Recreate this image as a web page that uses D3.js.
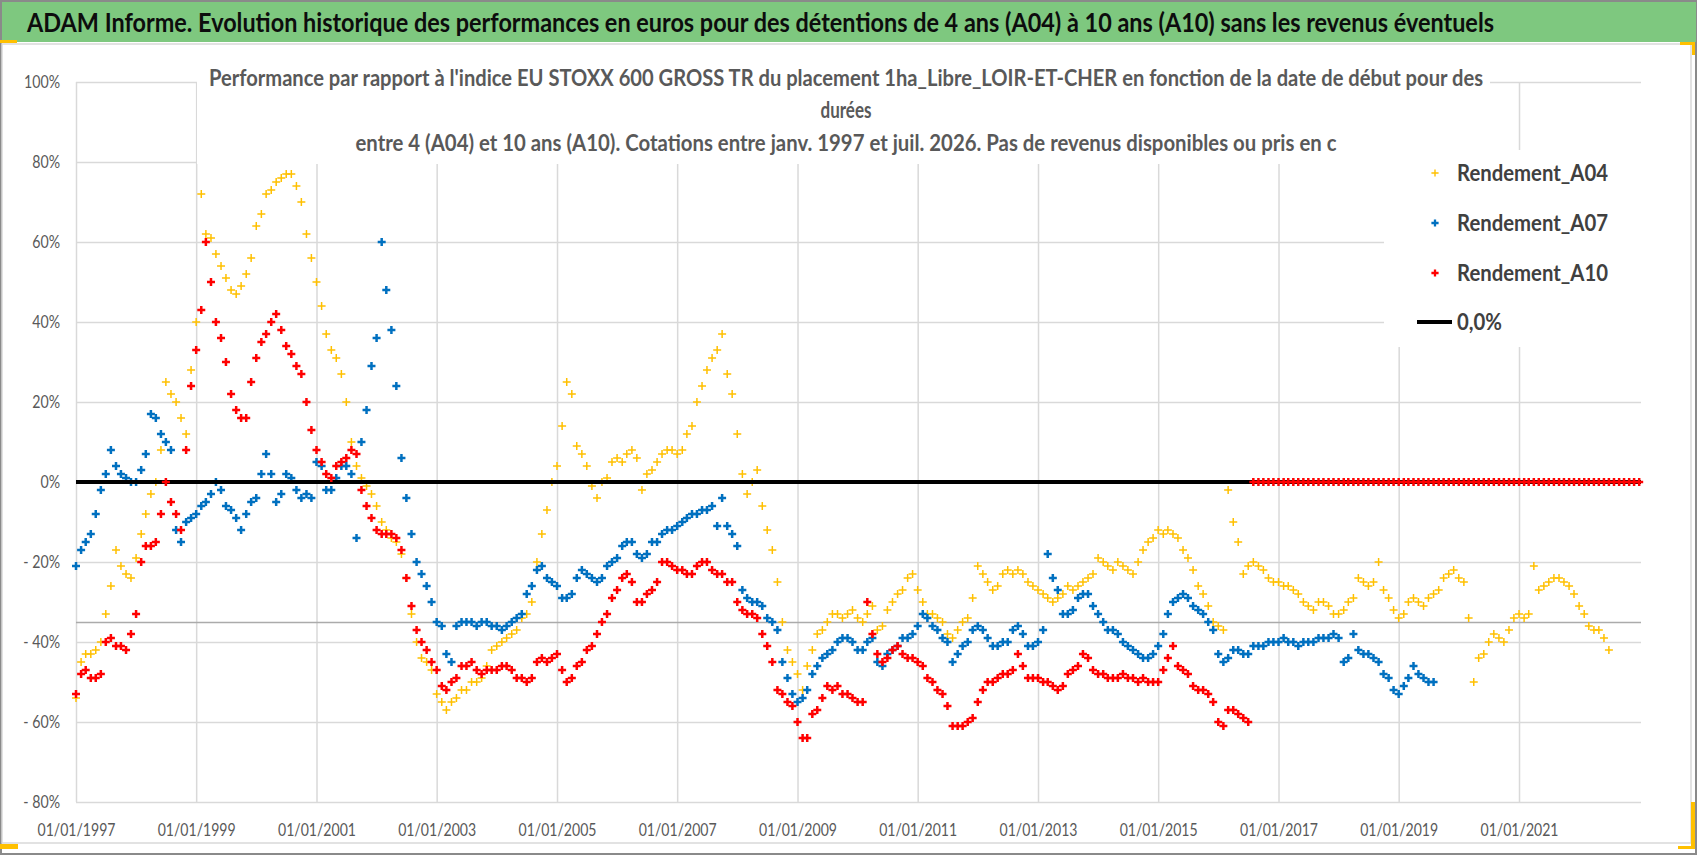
<!DOCTYPE html>
<html>
<head>
<meta charset="utf-8">
<script src="https://cdn.jsdelivr.net/npm/d3@7/dist/d3.min.js"></script>
<style>
  body { margin: 0; background: #fff; }
  svg { display: block; font-family: Lato, "Open Sans", sans-serif; }
</style>
</head>
<body>
<script>
// monthly readings (in %), first value = janv. 1997
var startDate = "1997-01-01";

var rendementA04 = [
  -54,-45,-43,-43,-42,-40,-33,-26,-17,-21,-23,-24,
  -19,-13,-8,-3,0,8,25,22,20,16,12,28,
  40,72,62,61,57,54,51,48,47,49,52,56,
  64,67,72,73,75,76,77,77,74,70,62,56,
  50,44,37,33,31,27,20,10,4,1,-1,-3,
  -6,-10,-12,-14,-15,-18,-24,-33,-40,-44,-45,-47,
  -53,-55,-57,-55,-54,-52,-52,-50,-50,-49,-46,-42,
  -41,-40,-39,-38,-37,-34,-33,-30,-20,-13,-7,0,
  4,14,25,22,9,7,4,-1,-4,0,1,5,
  6,5,7,8,6,-2,2,3,5,7,8,8,
  7,8,12,14,20,24,28,31,33,37,27,22,
  12,2,-3,0,3,-6,-12,-17,-25,-35,-42,-45,
  -48,-52,-46,-42,-38,-37,-35,-33,-33,-34,-33,-32,
  -34,-35,-33,-31,-37,-36,-32,-30,-28,-27,-24,-23,
  -27,-30,-33,-33,-34,-35,-38,-39,-37,-35,-34,-29,
  -21,-23,-25,-27,-26,-23,-22,-23,-22,-23,-25,-26,
  -27,-28,-29,-30,-29,-28,-26,-27,-26,-25,-24,-23,
  -19,-20,-21,-22,-20,-21,-22,-23,-20,-17,-15,-14,
  -12,-13,-12,-13,-14,-17,-19,-22,-26,-28,-31,-35,
  -36,-37,-2,-10,-15,-23,-21,-20,-21,-22,-24,-25,
  -25,-26,-26,-27,-28,-30,-31,-32,-30,-30,-31,-33,
  -33,-32,-30,-29,-24,-25,-26,-25,-20,-27,-29,-32,
  -34,-33,-30,-29,-30,-31,-29,-28,-27,-24,-23,-22,
  -24,-25,-34,-50,-44,-43,-40,-38,-39,-40,-37,-34,
  -33,-34,-33,-21,-27,-26,-25,-24,-24,-25,-26,-28,
  -31,-33,-36,-37,-37,-39,-42
];

var rendementA07 = [
  -21,-17,-15,-13,-8,-2,2,8,4,2,1,0,
  0,3,7,17,16,12,10,8,-12,-15,-10,-9,
  -8,-6,-5,-3,0,-2,-6,-7,-9,-12,-8,-5,
  -4,2,7,2,-5,-3,2,1,-2,-4,-3,-4,
  5,4,-2,-2,1,4,4,2,-14,10,18,29,
  36,60,48,38,24,6,-4,-13,-20,-23,-26,-30,
  -35,-36,-43,-45,-36,-35,-35,-35,-36,-35,-35,-36,
  -36,-37,-36,-35,-34,-33,-28,-26,-22,-21,-24,-25,
  -26,-29,-29,-28,-24,-22,-23,-24,-25,-24,-21,-20,
  -19,-16,-15,-15,-18,-19,-18,-15,-15,-13,-12,-12,
  -11,-10,-9,-8,-8,-7,-7,-6,-11,-4,-11,-13,
  -16,-27,-29,-30,-30,-31,-34,-35,-37,-45,-49,-53,
  -55,-54,-52,-48,-46,-44,-43,-42,-40,-39,-39,-40,
  -42,-42,-40,-39,-45,-46,-43,-42,-41,-39,-39,-38,
  -36,-33,-34,-36,-37,-39,-40,-45,-43,-41,-40,-37,
  -36,-37,-39,-41,-41,-40,-40,-37,-36,-38,-41,-41,
  -40,-37,-18,-24,-27,-33,-33,-32,-29,-28,-28,-31,
  -33,-35,-37,-37,-38,-40,-41,-42,-43,-44,-44,-43,
  -41,-38,-33,-30,-29,-28,-29,-31,-32,-33,-35,-37,
  -43,-45,-44,-42,-42,-43,-43,-41,-41,-41,-40,-40,
  -40,-39,-40,-40,-41,-40,-40,-40,-39,-39,-39,-38,
  -39,-45,-44,-38,-42,-43,-43,-44,-45,-48,-49,-52,
  -53,-51,-49,-46,-48,-49,-50,-50
];

// A10 : no more 10-year windows after mid 2016, the sheet gives 0 there
var rendementA10 = [
  -53,-48,-47,-49,-49,-48,-40,-39,-41,-41,-42,-38,
  -33,-20,-16,-16,-15,-8,0,-5,-8,-12,8,24,
  33,43,60,50,40,36,30,22,18,16,16,25,
  31,35,37,40,42,38,34,32,29,27,20,13,
  8,5,2,1,4,5,6,8,7,-2,-6,-9,
  -12,-13,-13,-13,-14,-17,-24,-31,-37,-40,-42,-45,
  -47,-51,-52,-50,-49,-46,-46,-45,-47,-48,-47,-47,
  -47,-46,-46,-47,-49,-49,-50,-49,-45,-44,-45,-44,
  -43,-47,-50,-49,-46,-45,-42,-41,-38,-35,-33,-29,
  -27,-24,-23,-25,-30,-30,-28,-27,-25,-20,-20,-21,
  -22,-22,-23,-23,-21,-20,-20,-22,-23,-23,-25,-25,
  -30,-32,-33,-33,-34,-38,-41,-45,-52,-53,-55,-56,
  -60,-64,-64,-58,-57,-54,-51,-52,-51,-53,-53,-54,
  -55,-55,-30,-38,-43,-45,-44,-42,-41,-43,-44,-44,
  -45,-46,-49,-50,-52,-53,-56,-61,-61,-61,-60,-59,
  -55,-52,-50,-50,-49,-48,-48,-47,-43,-46,-49,-49,
  -49,-50,-50,-51,-52,-51,-48,-47,-46,-43,-44,-47,
  -48,-48,-49,-49,-49,-48,-49,-49,-50,-49,-50,-50,
  -50,-47,-44,-41,-46,-47,-48,-51,-52,-52,-53,-55,
  -60,-61,-57,-57,-58,-59,-60,
  0,0,0,0,0,
  0,0,0,0,0,0,0,0,0,0,0,0,
  0,0,0,0,0,0,0,0,0,0,0,0,
  0,0,0,0,0,0,0,0,0,0,0,0,
  0,0,0,0,0,0,0,0,0,0,0,0,
  0,0,0,0,0,0,0,0,0,0,0,0,
  0,0,0,0,0,0,0,0,0,0,0,0,
  0
];

var zeroLevel = 0;
var greyLevel = -35.1;   // horizontal grey line across the plot

var yTicks = [-80, -60, -40, -20, 0, 20, 40, 60, 80, 100];
var xTickYears = [1997, 1999, 2001, 2003, 2005, 2007, 2009, 2011, 2013, 2015, 2017, 2019, 2021];
var xEnd = "2023-01-12";

var legendNames = ["Rendement_A04", "Rendement_A07", "Rendement_A10", "0,0%"];

var headerText = "ADAM Informe. Evolution historique des performances en euros pour des détentions de 4 ans (A04) à 10 ans (A10) sans les revenus éventuels";
var titleLines = [
  "Performance par rapport à l'indice EU STOXX 600 GROSS TR  du placement 1ha_Libre_LOIR-ET-CHER en fonction de la date de début pour des",
  "durées",
  "entre 4 (A04) et 10 ans (A10). Cotations entre janv. 1997 et juil. 2026. Pas de revenus disponibles ou pris en c"
];

(function () {

var W = 1698, H = 856;
var pL = 76, pR = 1641, pT = 82, pB = 802;

var svg = d3.select("body").append("svg")
  .attr("width", W)
  .attr("height", H)

// frame + header
svg.append("rect").attr("x", 1).attr("y", 1).attr("width", W - 3).attr("height", H - 3)
  .attr("fill", "#fff").attr("stroke", "#8a8a8a").attr("stroke-width", 2)
svg.append("rect").attr("x", 2).attr("y", 44).attr("width", 1689).attr("height", 799)
  .attr("fill", "#fff").attr("stroke", "#d9d9d9").attr("stroke-width", 1.5)
svg.append("rect").attr("x", 2).attr("y", 2).attr("width", W - 4).attr("height", 40)
  .attr("fill", "#7ec87f")

var parse = d3.timeParse("%Y-%m-%d");
var t0 = parse(startDate);

var x = d3.scaleTime().domain([t0, parse(xEnd)]).range([pL, pR])
var y = d3.scaleLinear().domain([-80, 100]).range([pB, pT])

function toPoints(arr) {
  return arr.map(function(v, i) { return { date: d3.timeMonth.offset(t0, i), value: v } })
}

var xTickDates = xTickYears.map(function(yr) { return new Date(yr, 0, 1) })

// gridlines
svg.append("g")
  .attr("class", "grid")
  .attr("transform", "translate(" + pL + ",0)")
  .call(d3.axisLeft(y).tickValues(yTicks).tickSize(-(pR - pL)).tickFormat(""))
svg.append("g")
  .attr("class", "grid")
  .attr("transform", "translate(0," + pB + ")")
  .call(d3.axisBottom(x).tickValues(xTickDates).tickSize(-(pB - pT)).tickFormat(""))
svg.selectAll(".grid .domain").remove()
svg.selectAll(".grid .tick line").attr("stroke", "#d9d9d9").attr("stroke-width", 1.5)

// grey level line
svg.append("line")
  .attr("x1", pL).attr("x2", pR)
  .attr("y1", y(greyLevel)).attr("y2", y(greyLevel))
  .attr("stroke", "#ababab").attr("stroke-width", 1.5)

// title box and legend box hide the grid
svg.append("rect").attr("x", 197).attr("y", 55).attr("width", 1293).attr("height", 109).attr("fill", "#fff")
svg.append("rect").attr("x", 1384).attr("y", 150).attr("width", 257).attr("height", 197).attr("fill", "#fff")

// axis labels
function fmtPct(v) { return v < 0 ? "- " + Math.abs(v) + "%" : v + "%" }

var yAxis = svg.append("g")
  .attr("transform", "translate(" + pL + ",0)")
  .call(d3.axisLeft(y).tickValues(yTicks).tickSize(0).tickPadding(16).tickFormat(fmtPct))
var xAxis = svg.append("g")
  .attr("transform", "translate(0," + pB + ")")
  .call(d3.axisBottom(x).tickValues(xTickDates).tickSize(0).tickPadding(21).tickFormat(d3.timeFormat("%d/%m/%Y")))
yAxis.select(".domain").remove()
xAxis.select(".domain").remove()
yAxis.selectAll("text").attr("font-size", 18).attr("fill", "#595959").attr("font-family", "Lato, sans-serif")
xAxis.selectAll("text").attr("font-size", 18).attr("fill", "#595959").attr("font-family", "Lato, sans-serif")

// squeeze a group of texts so that the reference one gets width w
function squeeze(sel, refWidth, w) {
  var k = w / refWidth;
  sel.each(function() {
    var n = this.getComputedTextLength();
    d3.select(this).attr("textLength", n * k).attr("lengthAdjust", "spacingAndGlyphs")
  })
}
var yLabels = yAxis.selectAll("text")
squeeze(yLabels, yLabels.filter(function(d) { return d === 100 }).node().getComputedTextLength(), 36)
var xLabels = xAxis.selectAll("text")
squeeze(xLabels, xLabels.node().getComputedTextLength(), 78)

// markers
function plus(s) { return "M" + (-s) + ",0H" + s + "M0," + (-s) + "V" + s }

function drawSeries(data, color, size, sw) {
  svg.append("g").selectAll("path")
    .data(data)
    .enter().append("path")
    .attr("d", plus(size))
    .attr("transform", function(d) { return "translate(" + x(d.date) + "," + y(d.value) + ")" })
    .attr("stroke", color)
    .attr("stroke-width", sw)
    .attr("fill", "none")
}

drawSeries(toPoints(rendementA04), "#ffc000", 4, 1.5)
drawSeries(toPoints(rendementA07), "#0070c0", 4, 2.5)

svg.append("line")
  .attr("x1", pL).attr("x2", pR)
  .attr("y1", y(zeroLevel)).attr("y2", y(zeroLevel))
  .attr("stroke", "#000").attr("stroke-width", 4)

drawSeries(toPoints(rendementA10), "#ff0000", 4, 2.5)

// header text
svg.append("text")
  .text(headerText)
  .attr("x", 27).attr("y", 32)
  .attr("font-size", 27).attr("font-weight", "bold").attr("fill", "#0d0d0d")
  .attr("textLength", 1467).attr("lengthAdjust", "spacingAndGlyphs")

// chart title, 3 lines
var titleBase = [86, 118, 151];
var titleWidth = [1274, 51, 981];
titleLines.forEach(function(s, i) {
  svg.append("text")
    .text(s)
    .attr("x", 846).attr("y", titleBase[i])
    .attr("text-anchor", "middle")
    .attr("font-size", 22).attr("font-weight", "bold").attr("fill", "#595959")
    .attr("textLength", titleWidth[i]).attr("lengthAdjust", "spacingAndGlyphs")
})

// legend
var legColors = ["#ffc000", "#0070c0", "#ff0000", "#000"];
var legY = [173, 223, 273, 322];
var legend = svg.append("g")
legendNames.forEach(function(name, i) {
  if (i < 3) {
    legend.append("path")
      .attr("d", plus(3.6))
      .attr("transform", "translate(1435," + legY[i] + ")")
      .attr("stroke", legColors[i])
      .attr("stroke-width", i == 0 ? 1.4 : 2.3)
  } else {
    legend.append("line")
      .attr("x1", 1417).attr("x2", 1452)
      .attr("y1", legY[i]).attr("y2", legY[i])
      .attr("stroke", "#000").attr("stroke-width", 4)
  }
  legend.append("text")
    .attr("class", "legtext")
    .text(name)
    .attr("x", 1457).attr("y", legY[i] + 8)
    .attr("font-size", 22).attr("font-weight", "bold").attr("fill", "#404040")
})
var legTexts = legend.selectAll(".legtext")
squeeze(legTexts, legTexts.node().getComputedTextLength(), 151)

// yellow selection corners (Excel)
var handles = [[0, 40, 17, 3], [1680, 42, 15, 3], [1692, 42, 3, 13], [1691, 802, 4, 47], [1678, 846, 17, 3], [0, 844, 18, 5]];
svg.selectAll(".hdl").data(handles).enter().append("rect")
  .attr("x", function(d) { return d[0] }).attr("y", function(d) { return d[1] })
  .attr("width", function(d) { return d[2] }).attr("height", function(d) { return d[3] })
  .attr("fill", "#ffc000")

}())
</script>
</body>
</html>
